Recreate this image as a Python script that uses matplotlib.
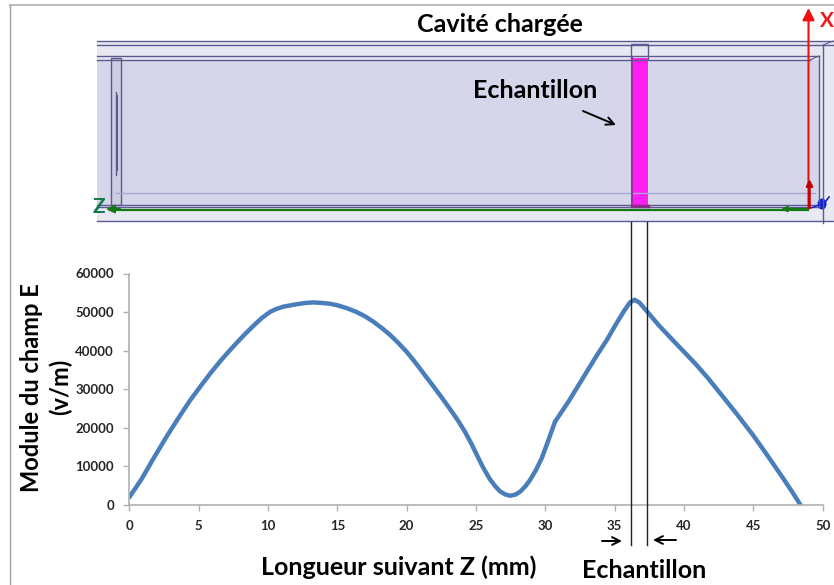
import matplotlib
matplotlib.use("Agg")
import matplotlib.pyplot as plt
from matplotlib.patches import Rectangle, Ellipse

plt.rcParams['font.family'] = ['Lato', 'DejaVu Sans']

# values
z_mm = [0, 0.9, 1.75, 2.7, 3.68, 4.4, 5.12, 5.84, 6.56, 7.15, 7.76, 8.4, 9.08, 9.6, 10.17, 10.6, 11.1, 12,
        12.8, 13.3, 13.76, 14.4, 14.97, 15.7, 16.4, 17, 17.6, 18.2, 18.8, 19.4, 20.0, 20.5, 20.97, 21.45,
        21.94, 22.5, 23.14, 23.7, 24.2, 24.65, 25.07, 25.5, 26.0, 26.4, 26.75, 27.1, 27.47, 27.85, 28.2,
        28.55, 28.9, 29.3, 29.75, 30.2, 30.7, 31.2, 31.67, 32.3, 33.0, 33.7, 34.44, 35.0, 35.64, 36.1,
        36.44, 36.8, 37.3, 38.2, 39.25, 40.0, 40.9, 41.7, 42.6, 43.8, 45, 46.1, 47.15, 47.8, 48.4]
e_field = [2000, 6800, 12100, 17800, 23300, 27200, 30700, 34100, 37300, 39700, 42100, 44500, 46900, 48600,
           50100, 50800, 51400, 52000, 52400, 52500, 52400, 52200, 51800, 51000, 50000, 48900, 47500, 45900,
           44100, 42000, 39700, 37500, 35300, 33000, 30700, 28000, 24800, 21900, 19000, 16000, 12900, 9800,
           6700, 4800, 3500, 2750, 2400, 2700, 3500, 4800, 6500, 8900, 12200, 16600, 21600, 24300, 26800,
           30500, 34600, 38700, 42800, 46300, 50100, 52500, 53200, 52400, 50300, 46500, 42500, 39700, 36300,
           33000, 29000, 23600, 18000, 12400, 6900, 3400, 0]
x_ticks = [0, 5, 10, 15, 20, 25, 30, 35, 40, 45, 50]
y_ticks = [0, 10000, 20000, 30000, 40000, 50000, 60000]

W, H = 834, 585
fig = plt.figure(figsize=(W / 100, H / 100), dpi=100)

# chart
ax = fig.add_axes([129.3 / W, (H - 505) / H, 693.4 / W, 231.5 / H])
ax.plot(z_mm, e_field, color='#4a7ebb', lw=3.2, solid_capstyle='round', solid_joinstyle='round')
ax.set_xlim(0, 50)
ax.set_ylim(0, 60000)
ax.set_xticks(x_ticks)
ax.set_yticks(y_ticks)
ax.spines['top'].set_visible(False)
ax.spines['right'].set_visible(False)
for s in ['left', 'bottom']:
    ax.spines[s].set_color('#b0b0b0')
    ax.spines[s].set_linewidth(1.2)
ax.tick_params(colors='#b0b0b0', labelcolor='#262626', length=4, width=1, labelsize=9.5, pad=7)
for t in ax.get_xticklabels() + ax.get_yticklabels():
    t.set_fontweight('bold')
ax.patch.set_alpha(0)

# overlay in pixels for the schematic and annotations
ov = fig.add_axes([0, 0, 1, 1], zorder=5)
ov.set_xlim(0, W)
ov.set_ylim(H, 0)
ov.axis('off')
ov.patch.set_alpha(0)

edge = '#5d5a92'
light = '#e8e8f3'
fill = '#d5d6ea'

# page frame
ov.plot([10, W], [5, 5], color='#bdbdbd', lw=1.5)
ov.plot([10, 10], [5, H], color='#a0a0a0', lw=1)

# cavity
ov.add_patch(Rectangle((97, 41), W - 97, 180, fc=light, ec='none'))
ov.add_patch(Rectangle((97, 60), 722, 145, fc=fill, ec='none'))
ov.add_patch(Rectangle((111.5, 58), 10, 147, fc='#cdcee2', ec=edge, lw=1))
ov.plot([116, 116], [92, 175], color=edge, lw=1)
ov.plot([117.5, 117.5], [95, 170], color=edge, lw=0.8)
for y in [41, 45, 220.5]:
    ov.plot([97, W], [y, y], color=edge, lw=1)
ov.plot([97, 819], [56, 56], color=edge, lw=1)
ov.plot([97, 810], [60, 60], color=edge, lw=1)
ov.plot([97, 819], [205, 205], color=edge, lw=1)
ov.plot([97, 819], [207, 207], color=edge, lw=1)
ov.plot([116, 815], [193, 193], color='#a5a6d5', lw=1)
ov.plot([819, 819], [56, 207], color=edge, lw=1)
ov.plot([810, 819], [60, 56], color=edge, lw=0.8)
ov.plot([823, 823], [45, 223], color=edge, lw=1)
ov.plot([823, 833], [45, 41], color=edge, lw=0.8)

# sample
ov.add_patch(Rectangle((631.5, 43.5), 17, 15, fc=light, ec=edge, lw=1))
ov.add_patch(Rectangle((632, 58), 16, 148, fc='#ff1ff0', ec='none'))
ov.plot([632, 632], [58, 206], color='#a02ca0', lw=1.5)
ov.plot([632, 648], [206, 206], color='#8a2a8a', lw=2.5)

# axes triad
ov.plot([110, 808], [210, 210], color='#137a13', lw=1.6)
ov.annotate('', xy=(106, 209), xytext=(120, 209), arrowprops=dict(arrowstyle='-|>', color='#137a13', lw=1.5, mutation_scale=12, shrinkA=0, shrinkB=0))
ov.annotate('', xy=(781, 209), xytext=(808, 209), arrowprops=dict(arrowstyle='-|>', color='#137a13', lw=1.5, mutation_scale=8, shrinkA=0, shrinkB=0))
ov.annotate('', xy=(808.5, 8), xytext=(808.5, 208), arrowprops=dict(arrowstyle='-|>', color='#f01010', lw=1.5, mutation_scale=18, shrinkA=0, shrinkB=0))
ov.annotate('', xy=(809.5, 179), xytext=(809.5, 208), arrowprops=dict(arrowstyle='-|>', color='#c00000', lw=1.8, mutation_scale=9, shrinkA=0, shrinkB=0))
ov.plot([811, 822], [208, 204], color='#1020e0', lw=1)
ov.add_patch(Ellipse((822, 204), 9, 11, fc='#1020d0', ec='none'))
ov.plot([826, 829], [201, 197], color='#1020d0', lw=1.2)
ov.text(827, 21, 'X', color='#f01818', fontsize=15, fontweight='bold', ha='center', va='center')
ov.text(99, 207, 'Z', color='#137a4a', fontsize=15, fontweight='bold', ha='center', va='center')

# sample width markers
ov.plot([631, 631], [222, 545], color='#222222', lw=1)
ov.plot([647.3, 647.3], [222, 545], color='#222222', lw=1)
ov.annotate('', xy=(622, 541), xytext=(602, 541), arrowprops=dict(arrowstyle='->', color='black', lw=1.4, mutation_scale=14, shrinkA=0, shrinkB=0))
ov.annotate('', xy=(653, 540), xytext=(676, 540), arrowprops=dict(arrowstyle='->', color='black', lw=1.4, mutation_scale=14, shrinkA=0, shrinkB=0))
ov.annotate('', xy=(616, 125), xytext=(583, 111), arrowprops=dict(arrowstyle='->', color='black', lw=1.4, mutation_scale=14, shrinkA=0, shrinkB=0))

# text
ov.text(500, 24, 'Cavité chargée', fontsize=18, fontweight='bold', ha='center', va='center', color='black')
ov.text(535.5, 90, 'Echantillon', fontsize=18, fontweight='bold', ha='center', va='center', color='black')
ov.text(399, 567, 'Longueur suivant Z (mm)', fontsize=18, fontweight='bold', ha='center', va='center', color='black')
ov.text(644.5, 570, 'Echantillon', fontsize=18, fontweight='bold', ha='center', va='center', color='black')
ov.text(32, 388, 'Module du champ E', fontsize=17, fontweight='bold', rotation=90, ha='center', va='center', color='black')
ov.text(60, 387, '(v/m)', fontsize=17, fontweight='bold', rotation=90, ha='center', va='center', color='black')

fig.savefig('out.png', dpi=100)
